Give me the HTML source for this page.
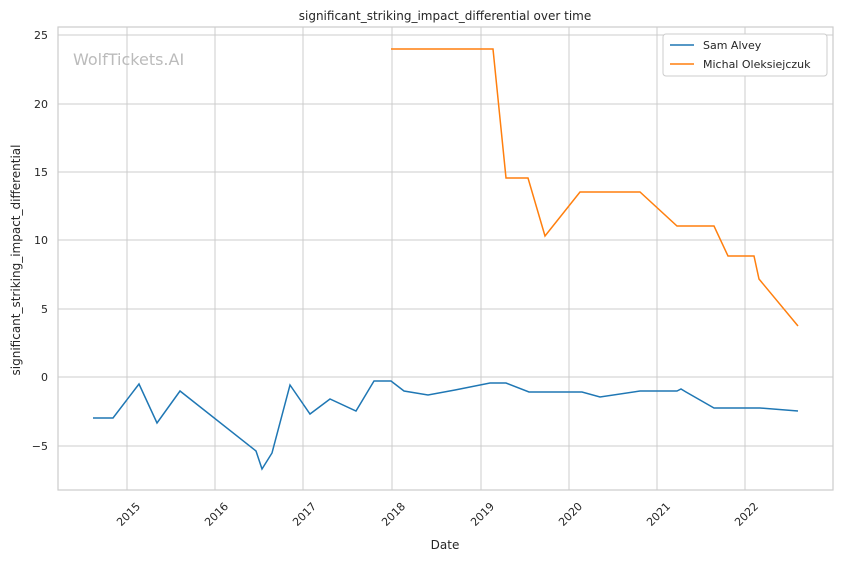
<!DOCTYPE html>
<html><head><style>
body{margin:0;background:#fff;}
svg text{font-family:"DejaVu Sans","Liberation Sans",sans-serif;}
</style></head><body>
<svg width="843" height="561" xmlns="http://www.w3.org/2000/svg">
<rect width="843" height="561" fill="#fff"/>
<g stroke="#cccccc" stroke-width="1">
<line x1="127" y1="27" x2="127" y2="490"/><line x1="215" y1="27" x2="215" y2="490"/>
<line x1="303" y1="27" x2="303" y2="490"/><line x1="392" y1="27" x2="392" y2="490"/>
<line x1="481" y1="27" x2="481" y2="490"/><line x1="569" y1="27" x2="569" y2="490"/>
<line x1="657" y1="27" x2="657" y2="490"/><line x1="745" y1="27" x2="745" y2="490"/>
<line x1="58" y1="35" x2="833" y2="35"/><line x1="58" y1="104" x2="833" y2="104"/>
<line x1="58" y1="172" x2="833" y2="172"/><line x1="58" y1="240" x2="833" y2="240"/>
<line x1="58" y1="309" x2="833" y2="309"/><line x1="58" y1="377" x2="833" y2="377"/>
<line x1="58" y1="446" x2="833" y2="446"/>
</g>
<rect x="58" y="27" width="775" height="463" fill="none" stroke="#cccccc" stroke-width="1.2"/>
<text x="73" y="65" font-size="16" fill="#bbbbbb">WolfTickets.AI</text>
<polyline fill="none" stroke="#1f77b4" stroke-width="1.5" points="93,418 113,418 139,384 157,423 180,391 256,451 262,469 272,453 290,385 310,414 330,399 356,411 374,381 391,381 404,391 428,395 455,390 490,383 506,383 529,392 582,392 600,397 640,391 677,391 681,389 686,392 714,408 733,408 760,408 798,411"/>
<polyline fill="none" stroke="#ff7f0e" stroke-width="1.5" points="391,49 493,49 506,178 528,178 545,236 580,192 640,192 677,226 714,226 728,256 754,256 759,279 798,326"/>
<g font-size="11" fill="#262626" text-anchor="end">
<text x="48" y="39">25</text><text x="48" y="108">20</text><text x="48" y="176">15</text>
<text x="48" y="244">10</text><text x="48" y="313">5</text><text x="48" y="381">0</text><text x="48" y="450">−5</text>
</g>
<g font-size="11" fill="#262626" text-anchor="end">
<text transform="translate(141,507) rotate(-45)">2015</text>
<text transform="translate(229,507) rotate(-45)">2016</text>
<text transform="translate(317,507) rotate(-45)">2017</text>
<text transform="translate(406,507) rotate(-45)">2018</text>
<text transform="translate(495,507) rotate(-45)">2019</text>
<text transform="translate(583,507) rotate(-45)">2020</text>
<text transform="translate(671,507) rotate(-45)">2021</text>
<text transform="translate(759,507) rotate(-45)">2022</text>
</g>
<text x="445" y="549" font-size="12" fill="#262626" text-anchor="middle">Date</text>
<text transform="translate(20,260) rotate(-90)" font-size="12" fill="#262626" text-anchor="middle">significant_striking_impact_differential</text>
<text x="445" y="20" font-size="12" fill="#262626" text-anchor="middle">significant_striking_impact_differential over time</text>
<rect x="663" y="34" width="164" height="42" rx="3" fill="#fff" stroke="#cccccc"/>
<line x1="670" y1="45" x2="694" y2="45" stroke="#1f77b4" stroke-width="1.5"/>
<line x1="670" y1="64" x2="694" y2="64" stroke="#ff7f0e" stroke-width="1.5"/>
<text x="703" y="49" font-size="11" fill="#262626">Sam Alvey</text>
<text x="703" y="68" font-size="11" fill="#262626">Michal Oleksiejczuk</text>
</svg>
</body></html>
